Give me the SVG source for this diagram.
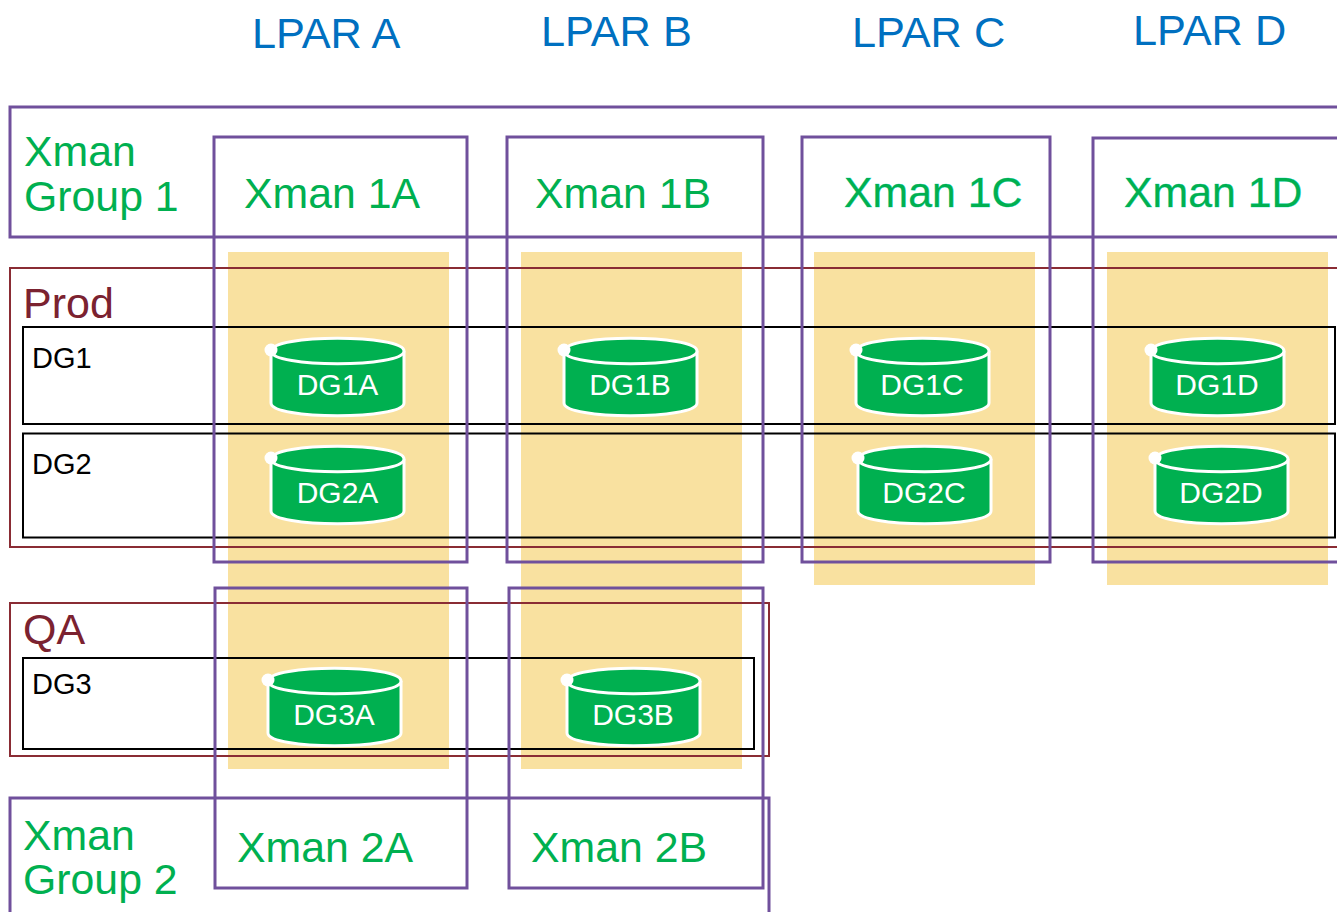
<svg xmlns="http://www.w3.org/2000/svg" width="1337" height="912" viewBox="0 0 1337 912">
<defs>
<style>
text{font-family:"Liberation Sans",Arial,sans-serif}
.lpar{font-size:43.300px;fill:#0070c0}
.x{font-size:42.800px;fill:#00b050}
.xc{font-size:42.800px;fill:#00b050;stroke:#30e0d8;stroke-width:.5px;paint-order:stroke}
.env{font-size:43px;fill:#7b2230}
.dg{font-size:29px;fill:#000}
.p{fill:none;stroke:#70509c;stroke-width:3px}
.r{fill:none;stroke:#8a2c34;stroke-width:2px}
.k{fill:none;stroke:#000;stroke-width:2px}
.o{fill:#f9e1a0}
.c{fill:#00b050;stroke:#fff;stroke-width:3px}
.d{fill:#fff}
.t{font-size:30px;fill:#fff;text-anchor:middle}
</style>
<g id="cyl">
<path class="c" d="M0 13C0 -4 133 -4 133 13V65C133 82 0 82 0 65Z"/>
<path class="c" d="M0 13C0 30 133 30 133 13"/>
<circle class="d" cx="0" cy="12" r="6.5"/>
</g>
</defs>
<rect width="1337" height="912" fill="#fff"/>
<g id="lpar-columns">
<rect class="o" x="228" y="252" width="221" height="517"/>
<rect class="o" x="521" y="252" width="221" height="517"/>
<rect class="o" x="814" y="252" width="221" height="333"/>
<rect class="o" x="1107" y="252" width="221" height="333"/>
</g>
<g id="lpar-labels">
<text class="lpar" x="252" y="48">LPAR A</text>
<text class="lpar" x="541" y="46">LPAR B</text>
<text class="lpar" x="852" y="47">LPAR C</text>
<text class="lpar" x="1133" y="45">LPAR D</text>
</g>
<g id="prod"><rect class="r" x="10" y="268" width="1340" height="279"/><text class="env" x="23" y="318">Prod</text></g>
<g id="qa"><rect class="r" x="10" y="603" width="759" height="153"/><text class="env" x="23" y="644">QA</text></g>
<g id="dg1"><rect class="k" x="23" y="327" width="1312" height="97"/><text class="dg" x="32" y="368">DG1</text></g>
<g id="dg2"><rect class="k" x="23" y="433.500" width="1312" height="104"/><text class="dg" x="32" y="474">DG2</text></g>
<g id="dg3"><rect class="k" x="23" y="658" width="731" height="91"/><text class="dg" x="32" y="694">DG3</text></g>
<g id="group1"><rect class="p" x="10" y="107" width="1340" height="130"/><text class="x" x="24" y="166">Xman</text><text class="x" x="24" y="211">Group 1</text></g>
<g id="group2"><rect class="p" x="10" y="798" width="759" height="130"/><text class="x" x="23" y="850">Xman</text><text class="x" x="23" y="894">Group 2</text></g>
<g id="xman1a"><rect class="p" x="214" y="137" width="253" height="425"/><text class="x" x="244" y="208">Xman 1A</text></g>
<g id="xman1b"><rect class="p" x="507" y="137" width="256" height="425"/><text class="x" x="535" y="208">Xman 1B</text></g>
<g id="xman1c"><rect class="p" x="802" y="137" width="248" height="425"/><text class="xc" x="844" y="207">Xman 1C</text></g>
<g id="xman1d"><rect class="p" x="1093" y="138" width="260" height="424"/><text class="xc" x="1124" y="207">Xman 1D</text></g>
<g id="xman2a"><rect class="p" x="215" y="588" width="252" height="300"/><text class="x" x="237" y="862">Xman 2A</text></g>
<g id="xman2b"><rect class="p" x="509" y="588" width="254" height="300"/><text class="x" x="531" y="862">Xman 2B</text></g>
<g id="DG1A"><use href="#cyl" x="271" y="338"/><text class="t" x="337.500" y="395">DG1A</text></g>
<g id="DG1B"><use href="#cyl" x="564" y="338"/><text class="t" x="630" y="395">DG1B</text></g>
<g id="DG1C"><use href="#cyl" x="856" y="338"/><text class="t" x="922" y="395">DG1C</text></g>
<g id="DG1D"><use href="#cyl" x="1151" y="338"/><text class="t" x="1217" y="395">DG1D</text></g>
<g id="DG2A"><use href="#cyl" x="271" y="446"/><text class="t" x="337.500" y="503">DG2A</text></g>
<g id="DG2C"><use href="#cyl" x="858" y="446"/><text class="t" x="924" y="503">DG2C</text></g>
<g id="DG2D"><use href="#cyl" x="1155" y="446"/><text class="t" x="1221" y="503">DG2D</text></g>
<g id="DG3A"><use href="#cyl" x="268" y="668"/><text class="t" x="334" y="725">DG3A</text></g>
<g id="DG3B"><use href="#cyl" x="567" y="668"/><text class="t" x="633" y="725">DG3B</text></g>
<g id="connectors"></g>
</svg>
